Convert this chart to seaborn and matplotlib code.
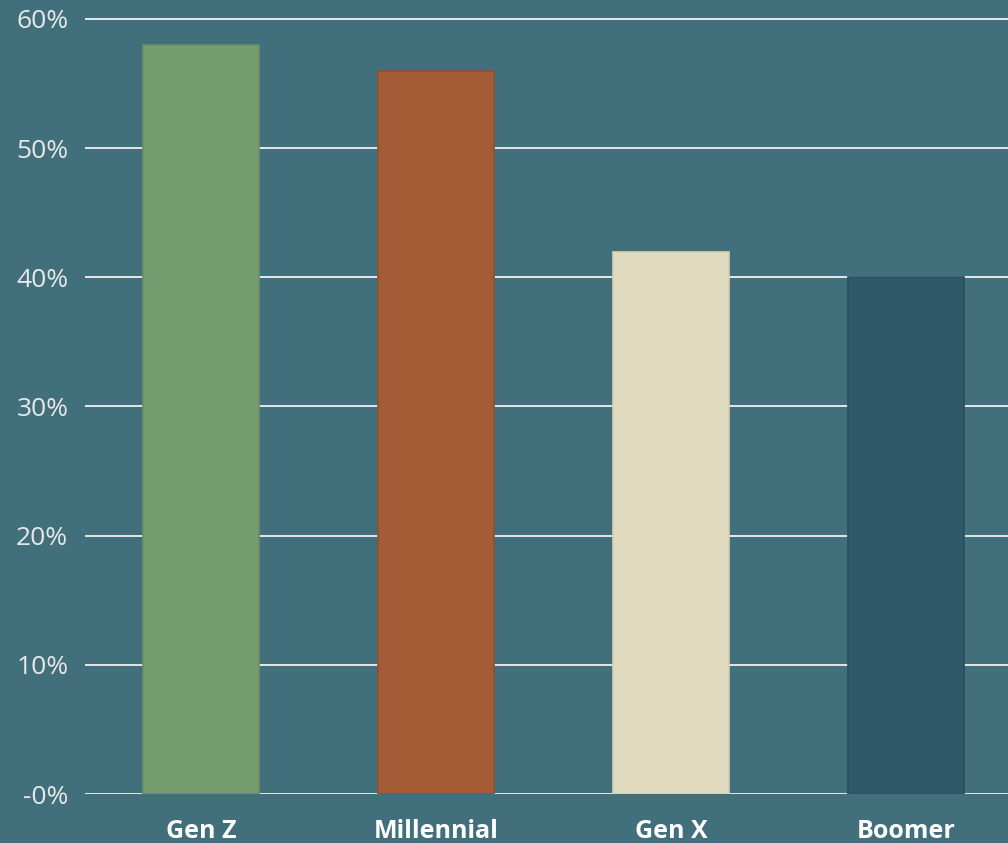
import matplotlib
matplotlib.use("Agg")
import matplotlib.pyplot as plt
import seaborn as sns
import pandas as pd
from matplotlib.ticker import FuncFormatter

generations = ["Gen Z", "Millennial", "Gen X", "Boomer"]
shares = [58, 56, 42, 40]
bar_colors = ["#759C6E", "#A35C35", "#E0DABF", "#2D5968"]
edge_colors = ["#6A8F63", "#8F5030", "#D6D0B4", "#274F5C"]
y_ticks = [0, 10, 20, 30, 40, 50, 60]

bg = "#41707C"

sns.set_theme(style="white")
plt.rcParams["font.family"] = ["Open Sans", "DejaVu Sans"]

df = pd.DataFrame({"generation": generations, "share": shares})

fig = plt.figure(figsize=(10.08, 8.43), dpi=100)
fig.patch.set_facecolor(bg)
# axes: left 85px, right beyond edge, 0% at y=794px, 60% at y=19px
px_per_unit = (794 - 19) / 60.0
top_val = 60.6
ax_h_px = top_val * px_per_unit
ax = fig.add_axes([85 / 1008, (843 - 794) / 843, (1008 - 85) / 1008, ax_h_px / 843])
ax.set_facecolor(bg)

sns.barplot(data=df, x="generation", y="share", hue="generation",
            palette=bar_colors, width=0.494, legend=False, ax=ax,
            saturation=1, zorder=3)
for patch, ec in zip(ax.patches, edge_colors):
    patch.set_edgecolor(ec)
    patch.set_linewidth(1.2)

ax.set_xlim(-0.494, 3.434)
ax.set_ylim(0, top_val)
ax.set_yticks(y_ticks)
ax.yaxis.set_major_formatter(FuncFormatter(lambda v, p: "-0%" if v == 0 else f"{int(v)}%"))
ax.grid(axis="y", color="#E6E6E6", linewidth=1.4, zorder=0)
ax.grid(axis="x", visible=False)
ax.set_axisbelow(True)
for s in ax.spines.values():
    s.set_visible(False)
ax.set_xlabel("")
ax.set_ylabel("")
ax.tick_params(axis="y", length=0, pad=12, labelsize=19, labelcolor="#E8E8E8")
ax.tick_params(axis="x", length=0, pad=18, labelsize=18, labelcolor="#FFFFFF")
for lbl in ax.get_xticklabels():
    lbl.set_fontweight("bold")

fig.savefig("out.png", dpi=100, facecolor=bg)
